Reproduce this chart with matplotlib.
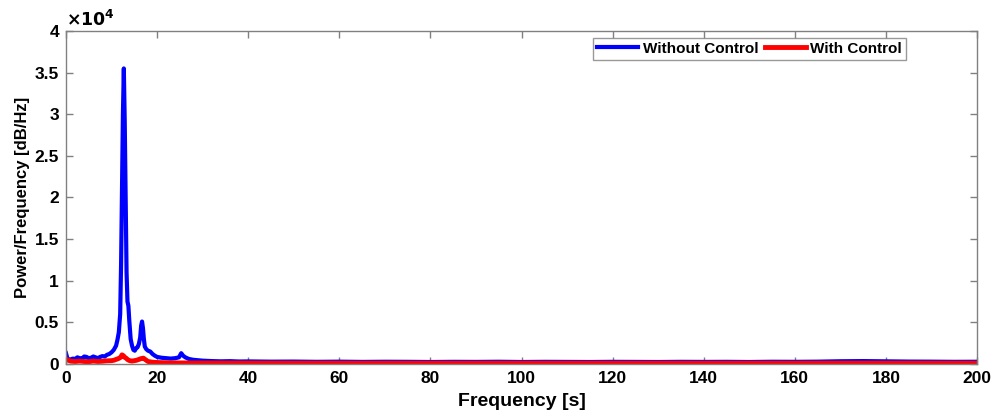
"""
    Power spectral density with and without control (MATLAB style figure).
"""

import numpy as np
from matplotlib import pyplot as plt
from matplotlib import ticker

# frequency [s] and power for the uncontrolled response
freq_off = [0, 0.3, 0.8, 1.5, 2, 2.5, 3, 3.5, 4, 4.5, 5, 5.5, 6, 6.5, 7, 7.5, 8,
            8.5, 9, 9.5, 10, 10.5, 11, 11.3, 11.6, 11.9, 12.1, 12.3, 12.5, 12.7,
            12.9, 13.1, 13.3, 13.5, 13.7, 13.9, 14.2, 14.5, 14.8, 15.1, 15.4,
            15.7, 16.0, 16.3, 16.5, 16.7, 16.9, 17.1, 17.3, 17.6, 18, 18.5, 19,
            19.5, 20, 21, 22, 23, 24, 24.8, 25.3, 25.7, 26.2, 27, 28, 29, 30,
            32, 34, 36, 38, 40, 45, 50, 55, 60, 65, 70, 75, 80, 85, 90, 95, 100,
            105, 110, 115, 120, 125, 130, 135, 140, 145, 150, 155, 160, 165, 170,
            175, 180, 185, 190, 195, 200]
power_off = [1300, 700, 500, 650, 600, 800, 700, 650, 900, 850, 700, 750, 900,
             800, 700, 850, 950, 900, 1100, 1200, 1400, 1700, 2200, 2900, 3800,
             6000, 12000, 21000, 30000, 35500, 29000, 20000, 11000, 7500, 7000,
             5200, 3000, 2200, 1700, 1600, 1900, 2000, 2400, 3200, 4600, 5100,
             4300, 3000, 2100, 1800, 1600, 1500, 1200, 1000, 850, 750, 700, 650,
             700, 800, 1300, 1000, 800, 600, 500, 450, 400, 350, 320, 340, 300,
             310, 280, 290, 260, 280, 250, 270, 260, 240, 260, 250, 270, 240,
             260, 250, 240, 260, 250, 240, 260, 250, 260, 240, 270, 260, 280,
             330, 350, 320, 290, 280, 260, 270]

# frequency [s] and power for the controlled response
freq_on = [0, 0.5, 1, 2, 3, 4, 5, 6, 7, 8, 9, 10, 10.5, 11, 11.5, 12, 12.3, 12.6,
           12.9, 13.2, 13.6, 14, 14.5, 15, 15.5, 16, 16.5, 17, 17.5, 18, 19, 20,
           22, 25, 30, 40, 60, 80, 100, 120, 140, 160, 180, 200]
power_on = [600, 450, 350, 300, 350, 300, 280, 350, 300, 330, 380, 400, 450,
            550, 650, 800, 1100, 1000, 800, 700, 500, 400, 350, 400, 450, 550,
            650, 700, 500, 300, 220, 180, 150, 130, 120, 110, 100, 100, 100, 100,
            100, 100, 100, 100]

plt.rcParams['font.family'] = ['Liberation Sans', 'DejaVu Sans']
plt.rcParams['font.weight'] = 'bold'

fig = plt.figure(figsize=(9.95, 4.12), dpi=100)
ax = fig.add_axes([0.0663, 0.1165, 0.9157, 0.8083])

ax.plot(freq_off, power_off, color='#0000ff', lw=3, label='Without Control')
ax.plot(freq_on, power_on, color='#ff0000', lw=3.5, label='With Control')

ax.set_xlim(0, 200)
ax.set_ylim(0, 40000)
ax.set_xticks(np.arange(0, 201, 20))
ax.set_yticks(np.arange(0, 40001, 5000))
ax.yaxis.set_major_formatter(ticker.FuncFormatter(lambda v, p: '%g' % (v / 1e4)))

ax.tick_params(direction='in', top=True, right=True, length=5, width=1,
               color='#808080', labelsize=12.5, pad=5)
for lab in ax.get_xticklabels() + ax.get_yticklabels():
    lab.set_fontweight('bold')
for sp in ax.spines.values():
    sp.set_color('#808080')
    sp.set_linewidth(1)

ax.text(0.0, 1.005, r'$\times\mathbf{10^{4}}$', transform=ax.transAxes,
        fontsize=12.5, ha='left', va='bottom')

ax.set_xlabel('Frequency [s]', fontsize=14, fontweight='bold', labelpad=5)
ax.set_ylabel('Power/Frequency [dB/Hz]', fontsize=12, fontweight='bold',
              labelpad=3)

leg = ax.legend(loc='upper right', bbox_to_anchor=(0.922, 0.979), ncol=2,
                fontsize=11, frameon=True, fancybox=False, handlelength=2.7,
                handletextpad=0.3, columnspacing=0.4, borderpad=0.25,
                borderaxespad=0)
leg.get_frame().set_edgecolor('#808080')
leg.get_frame().set_linewidth(1)
for t in leg.get_texts():
    t.set_fontweight('bold')

fig.savefig('out.png', dpi=100)
